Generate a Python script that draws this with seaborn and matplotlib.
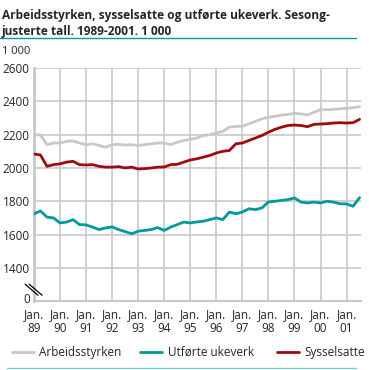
import matplotlib
matplotlib.use("Agg")
import matplotlib.pyplot as plt
import seaborn as sns
import numpy as np
import pandas as pd
from matplotlib.lines import Line2D
import matplotlib.transforms as mtransforms

# Kvartalsvise avlesninger, jan. 1989 - jul. 2001 (1 000)
arbeidsstyrken = [2200, 2198, 2140, 2150,
                  2150, 2160, 2162, 2150,
                  2140, 2145, 2135, 2125,
                  2140, 2142, 2138, 2140,
                  2135, 2140, 2145, 2150,
                  2150, 2140, 2155, 2165,
                  2172, 2180, 2195, 2200,
                  2210, 2220, 2245, 2250,
                  2250, 2265, 2280, 2295,
                  2305, 2310, 2318, 2322,
                  2328, 2325, 2318, 2335,
                  2350, 2350, 2352, 2355,
                  2358, 2362, 2368]
sysselsatte = [2084, 2078, 2010, 2020,
               2025, 2035, 2040, 2020,
               2018, 2020, 2010, 2005,
               2005, 2008, 2000, 2005,
               1994, 1996, 2000, 2005,
               2006, 2020, 2022, 2035,
               2048, 2055, 2065, 2075,
               2090, 2100, 2105, 2145,
               2150, 2165, 2180, 2195,
               2215, 2232, 2245, 2255,
               2258, 2255, 2248, 2262,
               2264, 2266, 2270, 2272,
               2270, 2272, 2292]
utforte_ukeverk = [1724, 1742, 1705, 1700,
                   1670, 1675, 1690, 1660,
                   1658, 1645, 1630, 1640,
                   1646, 1630, 1618, 1605,
                   1620, 1625, 1630, 1642,
                   1625, 1645, 1660, 1675,
                   1670, 1676, 1680, 1690,
                   1700, 1690, 1735, 1725,
                   1735, 1755, 1750, 1760,
                   1796, 1800, 1805, 1810,
                   1820, 1795, 1790, 1795,
                   1790, 1800, 1795, 1785,
                   1784, 1770, 1822]
tid = [1989 + i / 4 for i in range(len(arbeidsstyrken))]
aar = list(range(1989, 2002))
x_labels = ["Jan.\n" + str(a)[2:] for a in aar]
y_ticks = [1200, 1400, 1600, 1800, 2000, 2200, 2400, 2600]
y_labels = ["0", "1400", "1600", "1800", "2000", "2200", "2400", "2600"]

df = pd.DataFrame({"tid": tid * 3,
                   "verdi": arbeidsstyrken + utforte_ukeverk + sysselsatte,
                   "serie": ["Arbeidsstyrken"] * len(tid) + ["Utførte ukeverk"] * len(tid)
                            + ["Sysselsatte"] * len(tid)})

sns.set_style("white")
plt.rcParams['font.family'] = ['Open Sans', 'DejaVu Sans']

grid = "#c8c8c8"
farger = {"Arbeidsstyrken": "#c8c8c8", "Utførte ukeverk": "#009a9a", "Sysselsatte": "#9e0b0f"}

fig = plt.figure(figsize=(3.69, 3.70), dpi=100)
ax = fig.add_axes([0.092, 0.186, 0.886, 0.630])

sns.lineplot(data=df, x="tid", y="verdi", hue="serie", palette=farger, linewidth=2,
             legend=False, ax=ax, zorder=3)

ax.set_xlim(1989, 2001.55)
ax.set_ylim(1200, 2600)
ax.set_xticks(aar)
ax.set_xticklabels(x_labels, fontsize=8.5, linespacing=1.05)
ax.set_yticks(y_ticks)
ax.set_yticklabels(y_labels, fontsize=8.5)
ax.tick_params(axis="x", length=0, pad=5)
ax.tick_params(axis="y", length=0, pad=3)
# "0" litt opp, som i originalen
nudge = mtransforms.ScaledTranslation(0, 2 / 72, fig.dpi_scale_trans)
lab0 = ax.get_yticklabels()[0]
lab0.set_transform(lab0.get_transform() + nudge)
ax.set_xlabel("")
ax.set_ylabel("")

for y in y_ticks[1:]:
    ax.axhline(y, color=grid, lw=1.2, zorder=1)
for a in aar[1:]:
    ax.axvline(a, color=grid, lw=1.2, zorder=1)
for s in ["top", "right"]:
    ax.spines[s].set_visible(False)
ax.spines["left"].set_color(grid)
ax.spines["left"].set_linewidth(2)
ax.spines["bottom"].set_color(grid)
ax.spines["bottom"].set_linewidth(1.5)

# brudd i y-aksen
for dx in [0, 0.011]:
    fig.add_artist(Line2D([0.068 + dx, 0.103 + dx], [0.232, 0.202], color="black", lw=0.9))

fig.text(0.006, 0.975, "Arbeidsstyrken, sysselsatte og utførte ukeverk. Sesong-\njusterte tall. 1989-2001. 1 000",
         fontsize=8.6, fontweight="bold", va="top", ha="left", linespacing=1.25)
fig.add_artist(Line2D([0, 0.965], [0.897, 0.897], color="#009a9a", lw=1))
fig.text(0.006, 0.862, "1 000", fontsize=8, va="center", ha="left")

# forklaring
leg = [("Arbeidsstyrken", 0.033), ("Utførte ukeverk", 0.38), ("Sysselsatte", 0.752)]
for navn, x0 in leg:
    fig.add_artist(Line2D([x0, x0 + 0.058], [0.048, 0.048], color=farger[navn], lw=2))
    fig.text(x0 + 0.074, 0.048, navn, fontsize=8.5, va="center", ha="left")
fig.add_artist(Line2D([0.02, 0.965], [0.006, 0.006], color="#7fcaca", lw=1))

plt.savefig("out.png", dpi=100)
